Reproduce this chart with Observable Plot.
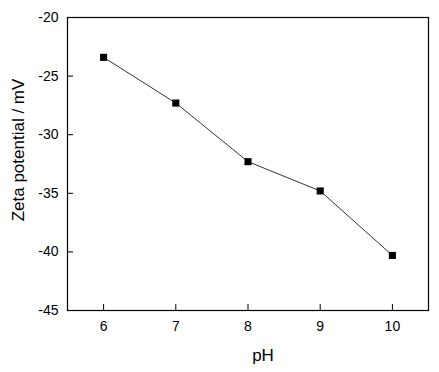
<!DOCTYPE html>
<html><head><meta charset="utf-8">
<script src="https://cdn.jsdelivr.net/npm/d3@7"></script>
<script src="https://cdn.jsdelivr.net/npm/@observablehq/plot@0.6"></script>
<style>body{margin:0;background:#fff}</style>
</head><body><div id="chart"></div>
<script>
const pH = [6, 7, 8, 9, 10];
const zeta = [-23.4, -27.3, -32.3, -34.8, -40.3];
const xTicks = [6, 7, 8, 9, 10];
const yTicks = [-20, -25, -30, -35, -40, -45];
const xLabel = "pH";
const yLabel = "Zeta potential / mV";

const data = pH.map((x, i) => ({x, y: zeta[i]}));
const W = 439, H = 372, mL = 67, mR = 11, mT = 17, mB = 62;
const innerW = W - mL - mR, innerH = H - mT - mB;

const chart = Plot.plot({
  width: W, height: H,
  marginLeft: mL, marginRight: mR, marginTop: mT, marginBottom: mB,
  style: {fontFamily: "'Liberation Sans', Arial, sans-serif", fontSize: "14px", color: "#000", background: "#fff"},
  x: {domain: [5.5, 10.5]},
  y: {domain: [-45, -20]},
  marks: [
    Plot.axisX(xTicks, {tickSize: 0, tickPadding: 11, label: null, fontSize: 14, tickFormat: d => `${d}`}),
    Plot.axisY(yTicks, {tickSize: 0, tickPadding: 9, label: null, fontSize: 14, tickFormat: d => `${d}`}),
    Plot.ruleX(xTicks, {x: d => d, insetTop: innerH - 6, stroke: "#000"}),
    Plot.ruleY(yTicks, {y: d => d, insetRight: innerW - 6, stroke: "#000"}),
    Plot.frame({stroke: "#000", strokeWidth: 1.2}),
    Plot.line(data, {x: "x", y: "y", stroke: "#333", strokeWidth: 1}),
    Plot.dot(data, {x: "x", y: "y", symbol: "square", r: 4, fill: "#000", stroke: "none"}),
    Plot.text([xLabel], {text: d => d, frameAnchor: "bottom", lineAnchor: "middle", textAnchor: "middle", dx: 15, dy: 45, fontSize: 17}),
    Plot.text([yLabel], {text: d => d, frameAnchor: "left", rotate: -90, textAnchor: "middle", lineAnchor: "middle", dx: -49, dy: -14, fontSize: 17})
  ]
});
document.getElementById("chart").append(chart);
</script>
</body></html>
